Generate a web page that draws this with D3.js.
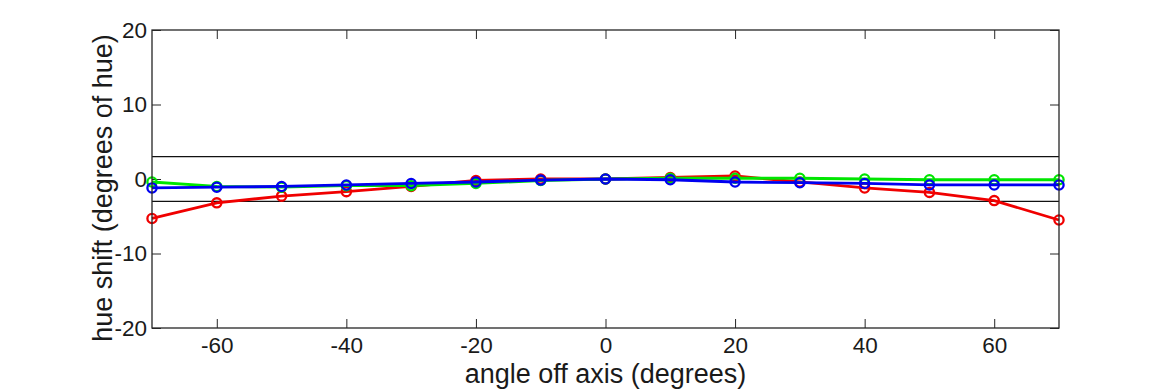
<!DOCTYPE html>
<html>
<head>
<meta charset="utf-8">
<script src="https://cdn.jsdelivr.net/npm/d3@7"></script>
<style>
  body { margin: 0; background: #fff; }
  svg text { font-family: "Liberation Sans", Arial, sans-serif; fill: #1a1a1a; }
</style>
</head>
<body>
<div id="chart"></div>
<script>
// hue shift vs viewing angle

var angles = [-70, -60, -50, -40, -30, -20, -10, 0, 10, 20, 30, 40, 50, 60, 70];
var redShift   = [-5.3, -3.2, -2.3, -1.7, -1.0, -0.2, 0, 0, 0.2, 0.4, -0.4, -1.2, -1.8, -2.9, -5.5];
var greenShift = [-0.4, -1.0, -1.1, -0.9, -0.9, -0.6, -0.2, 0, 0.1, 0.1, 0.1, 0, -0.1, -0.1, -0.1];
var blueShift  = [-1.2, -1.1, -1.0, -0.8, -0.6, -0.4, -0.15, 0, -0.1, -0.4, -0.5, -0.6, -0.8, -0.8, -0.8];
var xTicks = [-60, -40, -20, 0, 20, 40, 60];
var yTicks = [-20, -10, 0, 10, 20];
var limitLines = [3, -3];

var width = 1170, height = 390;
var margin = {top: 30, right: 111, bottom: 62, left: 152};

var svg = d3.select("#chart").append("svg")
            .attr("width", width)
            .attr("height", height);

var x = d3.scaleLinear().domain([-70, 70]).range([margin.left, width - margin.right]);
var y = d3.scaleLinear().domain([-20, 20]).range([height - margin.bottom, margin.top]);

var axisColor = "#262626";
var plain = function(d) { return String(d); };   // hyphen minus like the original

// axes with inward ticks on all four sides
svg.append("g")
   .attr("transform", "translate(0," + y(-20) + ")")
   .call(d3.axisBottom(x).tickValues(xTicks).tickSize(-9).tickPadding(9).tickFormat(plain))
   .call(function(g) {
     g.select(".domain").remove();
     g.selectAll("line").attr("stroke", axisColor);
     g.selectAll("text").style("font-size", "22.5px").attr("dy", "0.71em");
   });

svg.append("g")
   .attr("transform", "translate(0," + y(20) + ")")
   .call(d3.axisTop(x).tickValues(xTicks).tickSize(-9).tickFormat(""))
   .call(function(g) {
     g.select(".domain").remove();
     g.selectAll("line").attr("stroke", axisColor);
   });

svg.append("g")
   .attr("transform", "translate(" + x(-70) + ",0)")
   .call(d3.axisLeft(y).tickValues(yTicks).tickSize(-9).tickPadding(5).tickFormat(plain))
   .call(function(g) {
     g.select(".domain").remove();
     g.selectAll("line").attr("stroke", axisColor);
     g.selectAll("text").style("font-size", "22.5px");
   });

svg.append("g")
   .attr("transform", "translate(" + x(70) + ",0)")
   .call(d3.axisRight(y).tickValues(yTicks).tickSize(-9).tickFormat(""))
   .call(function(g) {
     g.select(".domain").remove();
     g.selectAll("line").attr("stroke", axisColor);
   });

// limit lines at +/-3
svg.selectAll(".limit")
   .data(limitLines)
   .enter().append("line")
   .attr("x1", x(-70)).attr("x2", x(70))
   .attr("y1", function(d) { return y(d); })
   .attr("y2", function(d) { return y(d); })
   .attr("stroke", "#111")
   .attr("stroke-width", 1.3);

// series
var series = [
  {values: redShift, color: "#f00000"},
  {values: greenShift, color: "#00e600"},
  {values: blueShift, color: "#0000f0"}
];

var line = d3.line()
             .x(function(d, i) { return x(angles[i]); })
             .y(function(d) { return y(d); });

series.forEach(function(s) {
  svg.append("path")
     .datum(s.values)
     .attr("d", line)
     .attr("fill", "none")
     .attr("stroke", s.color)
     .attr("stroke-width", 2.8);

  svg.selectAll(null)
     .data(s.values)
     .enter().append("circle")
     .attr("cx", function(d, i) { return x(angles[i]); })
     .attr("cy", function(d) { return y(d); })
     .attr("r", 4.6)
     .attr("fill", "none")
     .attr("stroke", s.color)
     .attr("stroke-width", 2.3);
});

// frame
svg.append("rect")
   .attr("x", x(-70)).attr("y", y(20))
   .attr("width", x(70) - x(-70))
   .attr("height", y(-20) - y(20))
   .attr("fill", "none")
   .attr("stroke", axisColor)
   .attr("stroke-width", 1.3);

// axis labels
svg.append("text")
   .attr("x", (x(-70) + x(70)) / 2)
   .attr("y", 383)
   .attr("text-anchor", "middle")
   .style("font-size", "27px")
   .text("angle off axis (degrees)");

svg.append("text")
   .attr("transform", "translate(112,188) rotate(-90)")
   .attr("text-anchor", "middle")
   .style("font-size", "27px")
   .text("hue shift (degrees of hue)");
</script>
</body>
</html>
